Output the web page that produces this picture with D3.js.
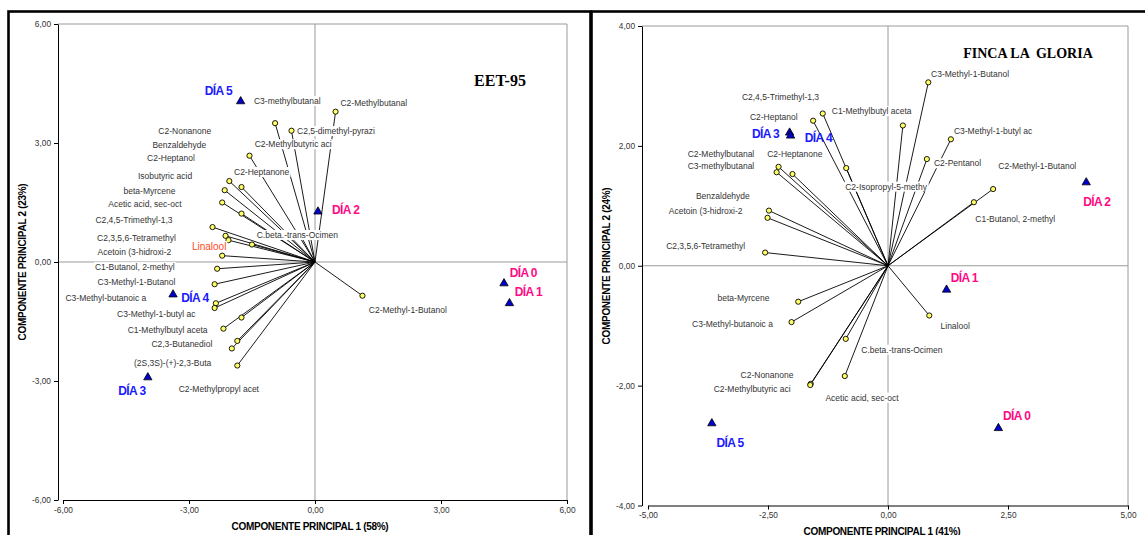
<!DOCTYPE html>
<html><head><meta charset="utf-8">
<script src="https://cdn.jsdelivr.net/npm/d3@7"></script>
<style>
body{margin:0;background:#fff;}
svg{display:block;font-family:"Liberation Sans",Arial,sans-serif;}
</style>
</head><body>
<svg id="chart" width="1145" height="535"></svg>
<script>
// ---------- EET-95 ----------
const eetNames = ["C3-methylbutanal","C2,5-dimethyl-pyrazi","C2-Methylbutanal","C2-Methylbutyric aci","C2-Nonanone","C2-Heptanone","Benzaldehyde","C2-Heptanol","Isobutyric acid","beta-Myrcene","Acetic acid, sec-oct","C2,4,5-Trimethyl-1,3","Linalool","C2,3,5,6-Tetramethyl","Acetoin (3-hidroxi-2","C.beta.-trans-Ocimen","C1-Butanol, 2-methyl","C3-Methyl-1-Butanol","C3-Methyl-butanoic a","C3-Methyl-1-butyl ac","C1-Methylbutyl aceta","C2,3-Butanediol","(2S,3S)-(+)-2,3-Buta","C2-Methylpropyl acet","C2-Methyl-1-Butanol"];
const eetX = [-0.95,-0.56,0.49,-1.56,-2.04,-1.75,-2.15,-2.21,-1.75,-2.44,-2.13,-2.06,-1.50,-2.21,-2.33,-0.35,-2.39,-2.36,-2.39,-1.75,-2.18,-1.85,-1.98,-1.85,1.13];
const eetY = [3.50,3.31,3.79,2.68,2.04,1.89,1.81,1.50,1.22,0.88,0.66,0.55,0.44,0.16,-0.17,0.68,-0.56,-1.04,-1.16,-1.40,-1.68,-1.99,-2.18,-2.61,-0.85];
const eetLabelX = [-0.66,0.50,1.40,-0.52,-3.10,-1.27,-3.23,-3.43,-3.57,-3.94,-4.05,-4.31,-2.52,-4.25,-4.30,-0.42,-4.29,-4.25,-4.98,-3.78,-3.51,-3.17,-3.39,-2.29,2.21];
const eetLabelY = [4.06,3.30,4.01,2.97,3.31,2.27,2.95,2.63,2.18,1.79,1.45,1.07,0.39,0.60,0.26,0.68,-0.13,-0.51,-0.90,-1.31,-1.71,-2.06,-2.55,-3.19,-1.21];
const eetDayX = [4.50,4.63,0.07,-3.98,-3.38,-1.77];
const eetDayY = [-0.54,-1.04,1.27,-2.91,-0.82,4.05];
const eetDayLabelX = [4.96,5.08,0.73,-4.36,-2.86,-2.30];
const eetDayLabelY = [-0.27,-0.76,1.31,-3.25,-0.90,4.32];
const eetTicks = [-6,-3,0,3,6];

// ---------- FINCA LA GLORIA ----------
const fincaNames = ["C3-Methyl-1-Butanol","C1-Methylbutyl aceta","C3-Methyl-1-butyl ac","C2-Pentanol","C2-Methyl-1-Butanol","C1-Butanol, 2-methyl","C2,4,5-Trimethyl-1,3","C2-Heptanol","C2-Isopropyl-5-methy","C2-Methylbutanal","C3-methylbutanal","C2-Heptanone","Benzaldehyde","Acetoin (3-hidroxi-2","C2,3,5,6-Tetramethyl","beta-Myrcene","C3-Methyl-butanoic a","C.beta.-trans-Ocimen","C2-Nonanone","C2-Methylbutyric aci","Acetic acid, sec-oct","Linalool"];
const fincaX = [0.84,0.31,1.31,0.81,2.19,1.79,-1.36,-1.56,-0.87,-2.28,-2.32,-1.99,-2.48,-2.51,-2.56,-1.87,-2.01,-0.88,-1.61,-1.62,-0.90,0.86];
const fincaY = [3.06,2.34,2.11,1.78,1.28,1.06,2.54,2.42,1.63,1.65,1.56,1.53,0.92,0.80,0.22,-0.60,-0.94,-1.22,-1.97,-1.99,-1.84,-0.83];
const fincaLabelX = [1.71,-0.34,2.19,1.45,3.11,2.65,-2.24,-2.38,-0.04,-3.48,-3.48,-1.94,-3.44,-3.80,-3.80,-3.01,-3.24,0.29,-2.52,-2.83,-0.54,1.40];
const fincaLabelY = [3.20,2.58,2.25,1.71,1.66,0.78,2.81,2.48,1.32,1.87,1.66,1.87,1.17,0.92,0.33,-0.53,-0.97,-1.40,-1.82,-2.05,-2.20,-1.00];
const fincaDayX = [2.30,1.22,4.13,-2.05,-2.03,-3.67];
const fincaDayY = [-2.71,-0.40,1.39,2.22,2.17,-2.63];
const fincaDayLabelX = [2.68,1.59,4.35,-2.55,-1.45,-3.29];
const fincaDayLabelY = [-2.51,-0.21,1.07,2.20,2.13,-2.95];
const fincaXTicks = [-5,-2.5,0,2.5,5];
const fincaYTicks = [-4,-2,0,2,4];

const days = ["DÍA 0","DÍA 1","DÍA 2","DÍA 3","DÍA 4","DÍA 5"];

const svg = d3.select("#chart");
const fmt = v => d3.format(".2f")(v).replace(".", ",").replace("−","-");

function panel(cfg) {
  const g = svg.append("g");
  const x = d3.scaleLinear().domain(cfg.xDomain).range(cfg.xRange);
  const y = d3.scaleLinear().domain(cfg.yDomain).range(cfg.yRange);
  const left = cfg.axisX, top = cfg.yRange[1], right = cfg.xRange[1], bottom = cfg.yRange[0];

  // frame
  g.append("rect").attr("x", cfg.frame[0]).attr("y", cfg.frame[1])
    .attr("width", cfg.frame[2]).attr("height", cfg.frame[3])
    .attr("fill", "none").attr("stroke", "#000").attr("stroke-width", 2.6);

  // plot border (gray)
  g.append("path").attr("d", `M${left},${top}H${right}V${bottom}`)
    .attr("fill", "none").attr("stroke", "#9a9a9a").attr("stroke-width", 1);
  // zero lines
  g.append("line").attr("x1", left).attr("x2", right).attr("y1", y(0)).attr("y2", y(0))
    .attr("stroke", "#9a9a9a").attr("stroke-width", 1);
  g.append("line").attr("x1", x(0)).attr("x2", x(0)).attr("y1", top).attr("y2", bottom)
    .attr("stroke", "#9a9a9a").attr("stroke-width", 1);

  // axes
  const ya = g.append("g").attr("transform", `translate(${left},0)`)
    .call(d3.axisLeft(y).tickValues(cfg.yTicks).tickSize(4).tickSizeOuter(0).tickPadding(3).tickFormat(fmt));
  const xa = g.append("g").attr("transform", `translate(0,${bottom})`)
    .call(d3.axisBottom(x).tickValues(cfg.xTicks).tickSize(4).tickSizeOuter(0).tickPadding(3).tickFormat(fmt));
  [ya, xa].forEach(a => {
    a.select(".domain").attr("stroke", "#000");
    a.selectAll(".tick line").attr("stroke", "#000");
    a.selectAll("text").attr("font-size", 8.3).attr("fill", "#333")
      .attr("font-family", '"Liberation Sans",Arial,sans-serif');
  });

  // vectors
  const idx = d3.range(cfg.names.length);
  g.append("g").selectAll("line").data(idx).join("line")
    .attr("x1", x(0)).attr("y1", y(0))
    .attr("x2", i => x(cfg.vx[i])).attr("y2", i => y(cfg.vy[i]))
    .attr("stroke", "#000").attr("stroke-width", 0.9);
  g.append("g").selectAll("circle").data(idx).join("circle")
    .attr("cx", i => x(cfg.vx[i])).attr("cy", i => y(cfg.vy[i])).attr("r", 2.6)
    .attr("fill", "#ffff66").attr("stroke", "#000").attr("stroke-width", 0.9);

  // variable labels with white background
  const lg = g.append("g");
  idx.forEach(i => {
    const t = lg.append("text")
      .attr("x", x(cfg.lx[i])).attr("y", y(cfg.ly[i]))
      .attr("text-anchor", "middle").attr("dominant-baseline", "central")
      .attr("fill", cfg.names[i] === cfg.highlight ? "#ff4a1c" : "#333")
      .style("font-size", cfg.names[i] === cfg.highlight ? "10px" : "8.5px")
      .text(cfg.names[i]);
    const b = t.node().getBBox();
    lg.insert("rect", () => t.node())
      .attr("x", b.x - 1).attr("y", b.y).attr("width", b.width + 2).attr("height", b.height)
      .attr("fill", "#fff");
  });

  // day markers
  const tri = d3.symbol(d3.symbolTriangle, 30)();
  g.append("g").selectAll("path").data(d3.range(days.length)).join("path")
    .attr("d", tri)
    .attr("transform", i => `translate(${x(cfg.dx[i])},${y(cfg.dy[i])})`)
    .attr("fill", "#0000cc").attr("stroke", "#000").attr("stroke-width", 0.8);
  g.append("g").selectAll("text").data(d3.range(days.length)).join("text")
    .attr("x", i => x(cfg.dlx[i])).attr("y", i => y(cfg.dly[i]))
    .attr("text-anchor", "middle").attr("dominant-baseline", "central")
    .attr("font-size", 12).attr("font-weight", "bold").attr("letter-spacing", -0.6)
    .attr("fill", i => i < 3 ? "#ff0a84" : "#1a1aff")
    .text(i => days[i]);

  // title (keep double spaces)
  g.append("text").attr("x", cfg.title[1]).attr("y", cfg.title[2])
    .attr("text-anchor", "middle").attr("dominant-baseline", "central")
    .attr("font-family", '"Liberation Serif","Times New Roman",serif')
    .attr("font-weight", "bold").style("font-size", cfg.title[3] + "px")
    .text(cfg.title[0].replace(/  /g, " \u00A0"));

  // axis titles
  g.append("text").attr("x", cfg.xTitle[1]).attr("y", cfg.xTitle[2])
    .attr("text-anchor", "middle").attr("dominant-baseline", "central")
    .attr("font-size", 10).attr("font-weight", "bold").attr("letter-spacing", -0.3)
    .text(cfg.xTitle[0]);
  g.append("text")
    .attr("transform", `translate(${cfg.yTitle[1]},${cfg.yTitle[2]}) rotate(-90)`)
    .attr("text-anchor", "middle").attr("dominant-baseline", "central")
    .attr("font-size", 10).attr("font-weight", "bold").attr("letter-spacing", -0.3)
    .text(cfg.yTitle[0]);
}

panel({
  frame: [8.5, 11.5, 582, 540],
  xDomain: [-6, 6], xRange: [63, 567],
  yDomain: [-6, 6], yRange: [500, 24],
  axisX: 58,
  xTicks: eetTicks, yTicks: eetTicks,
  names: eetNames, vx: eetX, vy: eetY, lx: eetLabelX, ly: eetLabelY,
  dx: eetDayX, dy: eetDayY, dlx: eetDayLabelX, dly: eetDayLabelY,
  highlight: "Linalool",
  title: ["EET-95", 500, 80, 16],
  xTitle: ["COMPONENTE PRINCIPAL 1 (58%)", 310, 526.5],
  yTitle: ["COMPONENTE PRINCIPAL 2 (23%)", 22, 262]
});

panel({
  frame: [591.5, 11.5, 560, 540],
  xDomain: [-5, 5], xRange: [648, 1128],
  yDomain: [-4, 4], yRange: [505.5, 26],
  axisX: 642,
  xTicks: fincaXTicks, yTicks: fincaYTicks,
  names: fincaNames, vx: fincaX, vy: fincaY, lx: fincaLabelX, ly: fincaLabelY,
  dx: fincaDayX, dy: fincaDayY, dlx: fincaDayLabelX, dly: fincaDayLabelY,
  highlight: null,
  title: ["FINCA LA  GLORIA", 1028, 53, 14],
  xTitle: ["COMPONENTE PRINCIPAL 1 (41%)", 882, 531],
  yTitle: ["COMPONENTE PRINCIPAL 2 (24%)", 606, 266]
});
</script>
</body></html>
